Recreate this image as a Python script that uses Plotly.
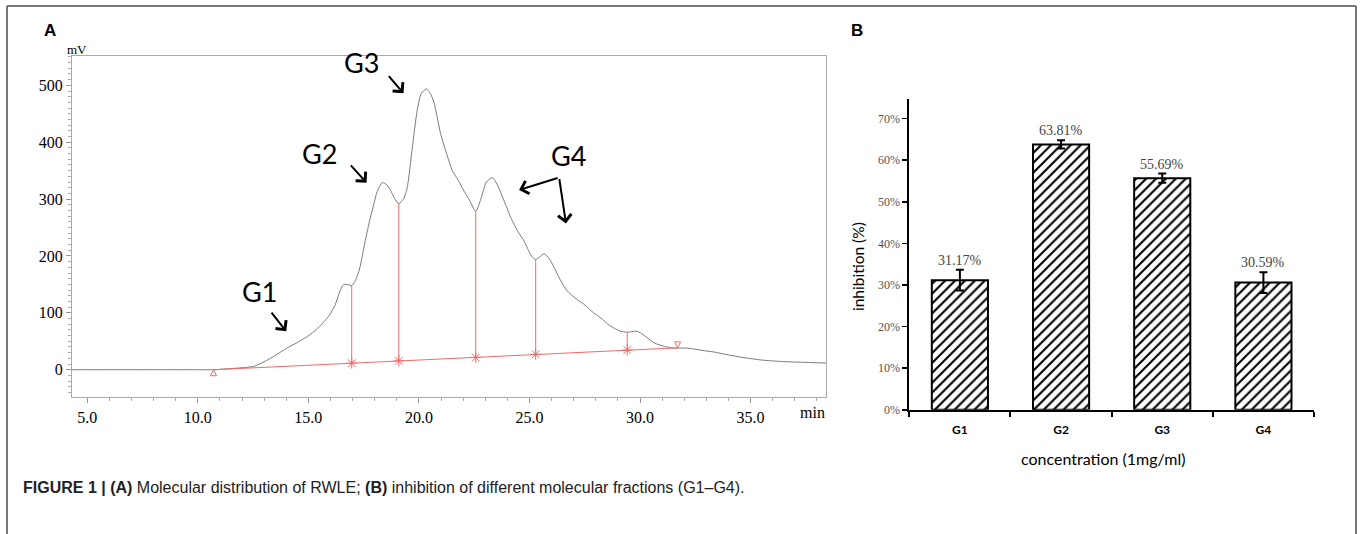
import plotly.graph_objects as go

# ---------------- Panel A data (chromatogram) ----------------
time_min = [4.31, 6.0, 8.0, 10.0, 10.71, 11.5, 12.0, 12.52, 13.0, 13.5, 14.03, 14.5, 15.09, 15.5,
            15.92, 16.2, 16.45, 16.6, 16.8, 16.96, 17.1, 17.3, 17.6, 17.8, 17.96, 18.1, 18.34, 18.55,
            18.72, 18.9, 19.09, 19.3, 19.47, 19.7, 19.92, 20.1, 20.33, 20.5, 20.68, 20.98, 21.25,
            21.51, 21.75, 22.04, 22.3, 22.57, 22.8, 23.05, 23.32, 23.55, 23.85, 24.15, 24.46, 24.76,
            24.95, 25.1, 25.28, 25.45, 25.66, 25.9, 26.11, 26.42, 26.72, 27.1, 27.47, 27.9, 28.23,
            28.55, 28.83, 29.1, 29.42, 29.65, 29.82, 30.0, 30.3, 30.65, 31.1, 31.55, 32.16, 32.8,
            33.36, 34.0, 34.57, 35.5, 36.39, 37.4, 38.41]
signal_mv = [0, 0, 0, 0, 0, 2, 3.5, 5.8, 14, 25, 38, 48, 62, 76,
             94, 113, 140, 150, 149.5, 148, 155, 175, 232, 267, 291, 312, 329, 325,
             315, 301, 292, 300, 320, 390, 456, 485, 494, 487, 470, 415, 380,
             350, 335, 314, 297, 278, 300, 330, 338, 325, 297, 268, 244, 226,
             210, 199, 194, 198, 204, 195, 180, 156, 138, 125, 115, 100, 91,
             80, 73, 68, 66, 67, 68, 65, 57, 47, 41, 38, 38, 34,
             31, 26, 22, 17, 14.5, 13, 11.7]

split_time = [16.96, 19.09, 22.57, 25.28, 29.42]
split_signal = [148, 292, 278, 194, 66]
baseline_time = [10.71, 16.96, 19.09, 22.57, 25.28, 29.42, 31.70]
baseline_mv = [0, 11.5, 15.5, 21.5, 27.0, 34.5, 38.5]

x_ticks_a = [5, 10, 15, 20, 25, 30, 35]
y_ticks_a = [0, 100, 200, 300, 400, 500]

# ---------------- Panel B data (inhibition) ----------------
fractions = ["G1", "G2", "G3", "G4"]
inhibition_pct = [31.17, 63.81, 55.69, 30.59]
inhibition_err = [2.5, 1.0, 1.1, 2.5]
y_ticks_b = [0, 10, 20, 30, 40, 50, 60, 70]

W, H = 1362, 534          # reference canvas (layout positions are fractions of it)
FIG_H = 543               # rendered height (page is photographed slightly taller)
RED = "#f26a6a"
SERIF = "Liberation Serif"
SANS = "Liberation Sans"
HUMAN = "Lato"

def px(xp):
    return xp / W

def py(yp):
    return (H - yp) / H

fig = go.Figure()

# chromatogram curve
fig.add_trace(go.Scatter(x=time_min, y=signal_mv, mode="lines",
                         line=dict(color="#7a7a7a", width=1, shape="spline", smoothing=0.6),
                         xaxis="x", yaxis="y", hoverinfo="skip"))

# red baseline
fig.add_trace(go.Scatter(x=baseline_time, y=baseline_mv, mode="lines",
                         line=dict(color=RED, width=1), xaxis="x", yaxis="y", hoverinfo="skip"))

# drop lines
drop_x, drop_y = [], []
for t, s in zip(split_time, split_signal):
    b = baseline_mv[baseline_time.index(t)]
    drop_x += [t, t, None]
    drop_y += [b, s, None]
fig.add_trace(go.Scatter(x=drop_x, y=drop_y, mode="lines", line=dict(color=RED, width=1),
                         xaxis="x", yaxis="y", hoverinfo="skip"))

# markers
fig.add_trace(go.Scatter(x=baseline_time[1:-1], y=baseline_mv[1:-1], mode="markers",
                         marker=dict(symbol="asterisk-open", size=9, color=RED,
                                     line=dict(color=RED, width=1)),
                         xaxis="x", yaxis="y", hoverinfo="skip"))
fig.add_trace(go.Scatter(x=[baseline_time[0]], y=[baseline_mv[0]], mode="markers",
                         marker=dict(symbol="arrow-up-open", size=6, color=RED,
                                     line=dict(color=RED, width=1)),
                         xaxis="x", yaxis="y", hoverinfo="skip"))
fig.add_trace(go.Scatter(x=[baseline_time[-1]], y=[baseline_mv[-1]], mode="markers",
                         marker=dict(symbol="arrow-down-open", size=6, color=RED,
                                     line=dict(color=RED, width=1)),
                         xaxis="x", yaxis="y", hoverinfo="skip"))

# bars
fig.add_trace(go.Bar(x=fractions, y=inhibition_pct, xaxis="x2", yaxis="y2", width=0.555,
                     marker=dict(color="white", line=dict(color="black", width=2),
                                 pattern=dict(shape="/", fgcolor="black", bgcolor="white",
                                              fgopacity=1, size=7, solidity=0.3)),
                     error_y=dict(type="data", array=inhibition_err, color="black",
                                  thickness=2, width=4),
                     hoverinfo="skip"))

annotations = []
# bar value labels
for f, v, e in zip(fractions, inhibition_pct, inhibition_err):
    annotations.append(dict(x=f, y=v + e, xref="x2", yref="y2", text=f"{v:.2f}%",
                            showarrow=False, yanchor="bottom", yshift=0,
                            font=dict(family=SERIF, size=14, color="#444")))

# peak labels and arrows (panel A)
peak_labels = [("G1", 12.78, 138), ("G2", 15.5, 380), ("G3", 17.4, 540), ("G4", 26.78, 376)]
for txt, x, y in peak_labels:
    annotations.append(dict(x=x, y=y, xref="x", yref="y", text=txt, showarrow=False,
                            xanchor="center", yanchor="middle",
                            font=dict(family=HUMAN, size=27, color="black")))
arrows = [((13.28, 103), (14.0, 67.6)), ((16.86, 362), (17.63, 328.8)),
          ((18.58, 519), (19.3, 486)), ((26.34, 338), (24.53, 316)), ((26.34, 338), (26.65, 257))]
for (tx, ty), (hx, hy) in arrows:
    annotations.append(dict(x=hx, y=hy, ax=tx, ay=ty, xref="x", yref="y", axref="x", ayref="y",
                            text="", showarrow=True, arrowhead=4, arrowsize=1.3, arrowwidth=2,
                            arrowcolor="black", standoff=0, startstandoff=0))

def label(xp, yp, text, font, **kw):
    d = dict(x=px(xp), y=py(yp), xref="paper", yref="paper", text=text, showarrow=False,
             xanchor="center", yanchor="middle", font=font)
    d.update(kw)
    annotations.append(d)

# axis unit labels
label(77, 49, "mV", dict(family=SERIF, size=13, color="black"))
label(812, 411, "min", dict(family=SERIF, size=16, color="black"))
# panel letters
label(50, 30, "<b>A</b>", dict(family=SANS, size=17, color="black"))
label(857, 30, "<b>B</b>", dict(family=SANS, size=17, color="black"))
# panel B titles
label(858, 266, "inhibition (%)", dict(family=HUMAN, size=15.5, color="black"), textangle=-90)
label(1103, 457, "concentration (1mg/ml)", dict(family=HUMAN, size=16, color="black"))
# caption
label(21, 486,
      "<b>FIGURE 1 | (A)</b> Molecular distribution of RWLE; <b>(B)</b> inhibition of different molecular fractions (G1–G4).",
      dict(family=SANS, size=16, color="#222"), xanchor="left")

shapes = [
    dict(type="line", xref="paper", yref="paper", x0=px(7), x1=px(7), y0=py(6), y1=0,
         line=dict(color="#777", width=2)),
    dict(type="line", xref="paper", yref="paper", x0=px(7), x1=px(1356), y0=py(6), y1=py(6),
         line=dict(color="#777", width=2)),
    dict(type="line", xref="paper", yref="paper", x0=px(1356), x1=px(1356), y0=py(6), y1=0,
         line=dict(color="#777", width=2)),
]

fig.update_layout(
    width=W, height=FIG_H, margin=dict(l=0, r=0, t=0, b=0, pad=0),
    paper_bgcolor="white", plot_bgcolor="white", showlegend=False,
    annotations=annotations, shapes=shapes,
    xaxis=dict(domain=[px(72), px(826)], range=[4.31, 38.41], anchor="y",
               tickvals=x_ticks_a, ticktext=[f"{t:.1f}" for t in x_ticks_a],
               ticks="outside", ticklen=5, tickcolor="#999", showline=True, linecolor="#aaa",
               mirror=True, showgrid=False, zeroline=False,
               minor=dict(tick0=5, dtick=1, ticks="outside", ticklen=3, tickcolor="#aaa", showgrid=False),
               tickfont=dict(family=SERIF, size=16, color="black")),
    yaxis=dict(domain=[py(396), py(56)], range=[-48.8, 551.2], anchor="x",
               tickvals=y_ticks_a, ticks="outside", ticklen=5, tickcolor="#999",
               showline=True, linecolor="#aaa", mirror=True, showgrid=False, zeroline=False,
               minor=dict(tick0=0, dtick=10, ticks="outside", ticklen=3, tickcolor="#aaa", showgrid=False),
               tickfont=dict(family=SERIF, size=16, color="black")),
    xaxis2=dict(domain=[px(909.3), px(1314)], anchor="y2", type="category",
                tickson="boundaries", ticks="outside", ticklen=5, tickwidth=2, tickcolor="black",
                showline=True, linecolor="black", linewidth=2, showgrid=False, zeroline=False,
                tickvals=fractions, ticktext=[f"<b>{f}</b>" for f in fractions],
                ticklabelstandoff=8,
                tickfont=dict(family=HUMAN, size=12, color="black")),
    yaxis2=dict(domain=[py(408.3), py(98.3)], range=[0, 74.8], anchor="x2",
                tickvals=y_ticks_b, ticktext=[f"{v}%" for v in y_ticks_b],
                ticks="outside", ticklen=5, tickwidth=1.5,
                tickcolor="black", showline=True, linecolor="black", linewidth=2,
                showgrid=False, zeroline=False,
                tickfont=dict(family=SERIF, size=12, color="#555")),
)

post = (
    "var s=document.createElement('style');"
    "s.innerHTML='html,body{margin:0!important;padding:0!important;overflow:hidden;}';"
    "document.head.appendChild(s);"
)

fig.write_html("out.html", config={"displayModeBar": False, "staticPlot": True}, post_script=post)
